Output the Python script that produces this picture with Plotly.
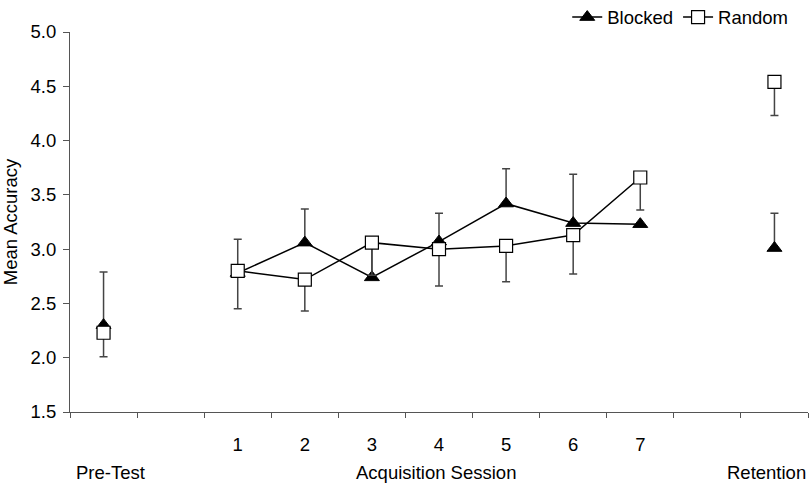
import plotly.graph_objects as go

slots = list(range(11))  # 0: Pre-Test, 2..8: sessions 1-7, 10: Retention
session_labels = ["1", "2", "3", "4", "5", "6", "7"]
session_slots = [2, 3, 4, 5, 6, 7, 8]

blocked = [2.30, None, 2.78, 3.06, 2.74, 3.07, 3.42, 3.24, 3.23, None, 3.01]
blocked_err_up = [0.49, 0, 0.31, 0.31, 0.30, 0.26, 0.32, 0.45, 0.0, 0, 0.32]
random_ = [2.23, None, 2.80, 2.72, 3.06, 3.00, 3.03, 3.13, 3.66, None, 4.54]
random_err_down = [0.22, 0, 0.35, 0.29, 0.30, 0.34, 0.33, 0.36, 0.30, 0, 0.31]

group_labels = ["Pre-Test", "Acquisition Session", "Retention"]

FONT = "Liberation Sans, Arial, sans-serif"
FS = 18.5

fig = go.Figure()
fig.add_trace(go.Scatter(
    x=slots, y=blocked, name="Blocked", mode="lines+markers",
    line=dict(color="black", width=1.5),
    marker=dict(symbol="triangle-up", size=13, color="black", line=dict(color="black", width=1)),
    error_y=dict(type="data", symmetric=False, array=blocked_err_up,
                 arrayminus=[0] * 11, color="#444444", thickness=1.5, width=4),
))
fig.add_trace(go.Scatter(
    x=slots, y=random_, name="Random", mode="lines+markers",
    line=dict(color="black", width=1.5),
    marker=dict(symbol="square", size=13, color="white", line=dict(color="black", width=1.2)),
    error_y=dict(type="data", symmetric=False, array=[0] * 11,
                 arrayminus=random_err_down, color="#444444", thickness=1.5, width=4),
))

fig.add_annotation(x=0.1, y=-0.16, xref="x", yref="paper", text=group_labels[0],
                   showarrow=False, font=dict(size=FS, color="black", family=FONT),
                   yanchor="middle", xanchor="center")
fig.add_annotation(x=4.95, y=-0.16, xref="x", yref="paper", text=group_labels[1],
                   showarrow=False, font=dict(size=FS, color="black", family=FONT),
                   yanchor="middle", xanchor="center")
fig.add_annotation(x=1.0, y=-0.16, xref="paper", yref="paper", text=group_labels[2],
                   showarrow=False, font=dict(size=FS, color="black", family=FONT),
                   yanchor="middle", xanchor="right")

fig.update_layout(
    width=811, height=492,
    margin=dict(l=70, r=3, t=32, b=80, autoexpand=False),
    plot_bgcolor="white", paper_bgcolor="white",
    font=dict(family=FONT, size=FS, color="black"),
    showlegend=True,
    legend=dict(orientation="h", x=0.98, xanchor="right", y=0.988, yanchor="bottom",
                font=dict(size=FS, color="black"), bgcolor="rgba(0,0,0,0)",
                itemwidth=30, traceorder="normal"),
    xaxis=dict(range=[-0.5, 10.5], tickvals=session_slots, ticktext=session_labels,
               ticks="", showgrid=False, zeroline=False, showline=True,
               linecolor="#555555", linewidth=1.2, ticklabelstandoff=16,
               minor=dict(tickvals=[i - 0.5 for i in range(12)], ticks="outside",
                          ticklen=5, tickcolor="#555555", tickwidth=1, showgrid=False)),
    yaxis=dict(range=[1.5, 5.0], dtick=0.5, tickformat=".1f", ticks="outside",
               ticklen=6, tickcolor="#555555", showgrid=False, zeroline=False,
               showline=True, linecolor="#555555", linewidth=1.2, ticklabelstandoff=3,
               title=dict(text="Mean Accuracy", font=dict(size=FS), standoff=18)),
)

fig.write_html("out.html")
